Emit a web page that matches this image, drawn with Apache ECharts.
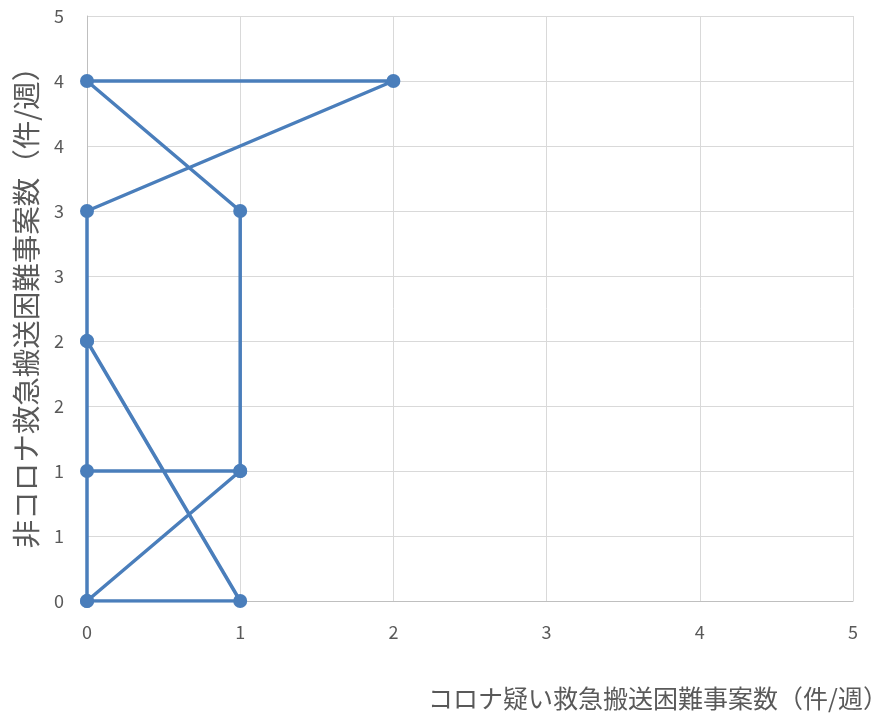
<!DOCTYPE html>
<html>
<head>
<meta charset="utf-8">
<script src="https://cdn.jsdelivr.net/npm/echarts@6/dist/echarts.min.js"></script>
<style>
html,body{margin:0;padding:0;background:#fff;}
#chart{width:878px;height:715px;}
</style>
</head>
<body>
<div id="chart"></div>
<script>
// Weekly points: x = suspected-COVID difficult transports, y = non-COVID difficult transports
const coronaCases = [1, 1, 0, 2, 0, 0, 1, 0, 1, 0, 0, 0];
const nonCoronaCases = [1, 3, 4, 4, 3, 2, 0, 0, 1, 1, 0, 2];
const xAxisTitle = 'コロナ疑い救急搬送困難事案数（件/週）';
const yAxisTitle = '非コロナ救急搬送困難事案数（件/週）';

const points = coronaCases.map((x, i) => [x, nonCoronaCases[i]]);
const font = '"Noto Sans CJK JP", "Noto Sans", sans-serif';

const chart = echarts.init(document.getElementById('chart'));
chart.setOption({
  animation: false,
  backgroundColor: '#ffffff',
  grid: { left: 87, right: 25, top: 16, bottom: 114, containLabel: false, outerBoundsMode: 'none' },
  xAxis: {
    type: 'value',
    min: 0, max: 5, interval: 1,
    name: xAxisTitle,
    nameLocation: 'middle',
    nameGap: 85,
    nameTextStyle: { fontFamily: font, fontSize: 25, color: '#595959', padding: [0, 0, 0, 376] },
    axisLine: { show: true, lineStyle: { color: '#bfbfbf', width: 1 } },
    axisTick: { show: false },
    axisLabel: { fontFamily: font, fontSize: 18, color: '#595959', margin: 22 },
    splitLine: { show: true, lineStyle: { color: '#d9d9d9', width: 1 } }
  },
  yAxis: {
    type: 'value',
    min: 0, max: 4.5, interval: 0.5,
    name: yAxisTitle,
    nameLocation: 'middle',
    nameGap: 47,
    nameRotate: 90,
    nameTextStyle: { fontFamily: font, fontSize: 28.5, color: '#595959', padding: [0, 0, 0, 16] },
    axisLine: { show: true, lineStyle: { color: '#bfbfbf', width: 1 } },
    axisTick: { show: false },
    axisLabel: {
      fontFamily: font, fontSize: 18, color: '#595959', margin: 23,
      formatter: v => String(Math.round(v))
    },
    splitLine: { show: true, lineStyle: { color: '#d9d9d9', width: 1 } }
  },
  series: [{
    type: 'line',
    data: points,
    symbol: 'circle',
    symbolSize: 14,
    showAllSymbol: true,
    lineStyle: { color: '#4a7ebb', width: 3.5 },
    itemStyle: { color: '#4a7ebb' },
    z: 5
  }]
});
</script>
</body>
</html>
